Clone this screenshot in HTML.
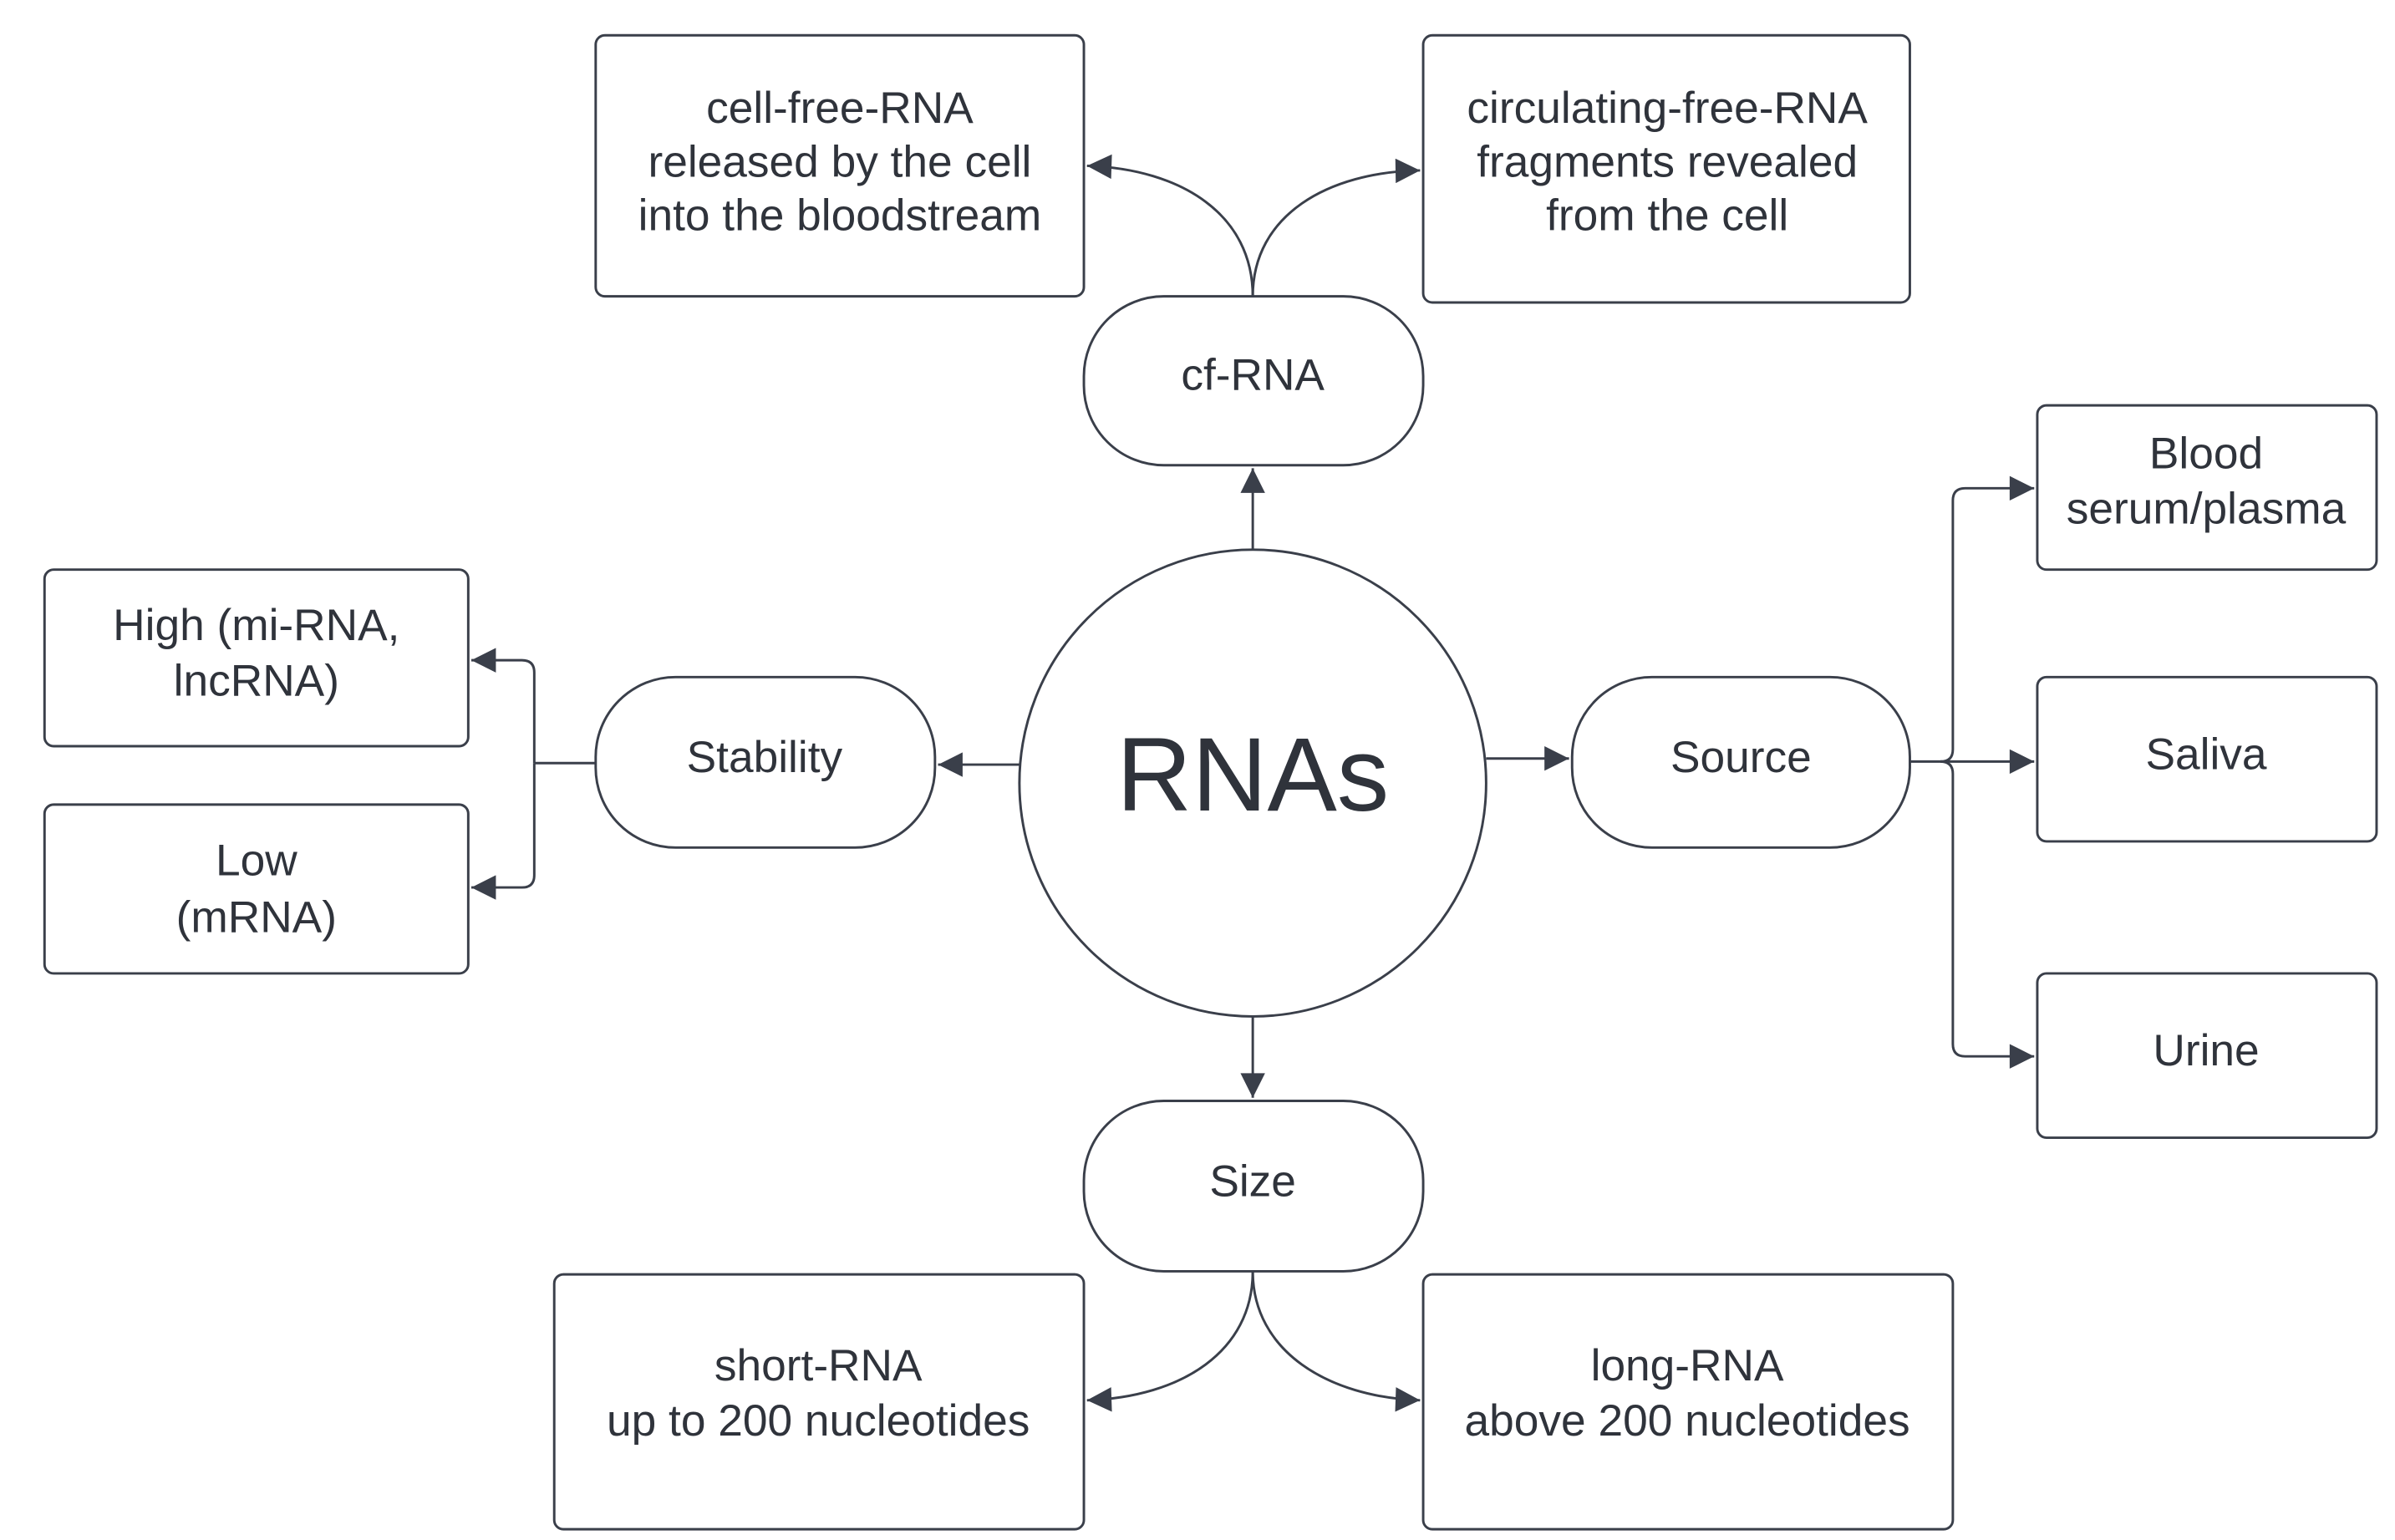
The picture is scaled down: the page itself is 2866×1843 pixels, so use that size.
<!DOCTYPE html>
<html><head><style>
html,body{margin:0;padding:0;background:#fff;}
svg{display:block;}
text{font-family:"Liberation Sans",Arial,sans-serif;fill:#2f333b;text-anchor:middle;}
</style></head><body>
<svg width="2866" height="1843" viewBox="0 0 1560 1003" preserveAspectRatio="none">
<defs>
<marker id="b" viewBox="0 0 10 10" refX="10" refY="5" markerWidth="20" markerHeight="16" markerUnits="userSpaceOnUse" orient="auto">
<path d="M0,0 L10,5 L0,10 z" fill="#3a3f4a"/></marker>
</defs>
<g fill="none" stroke="#3a3f4a" stroke-width="1.6">
<rect x="388" y="23" width="318" height="170" rx="6"/>
<rect x="927" y="23" width="317" height="174" rx="6"/>
<rect x="706" y="193" width="221" height="110" rx="52"/>
<circle cx="816" cy="510" r="152"/>
<rect x="388" y="441" width="221" height="111" rx="52"/>
<rect x="1024" y="441" width="220" height="111" rx="52"/>
<rect x="706" y="717" width="221" height="111" rx="52"/>
<rect x="29" y="371" width="276" height="115" rx="6"/>
<rect x="29" y="524" width="276" height="110" rx="6"/>
<rect x="1327" y="264" width="221" height="107" rx="6"/>
<rect x="1327" y="441" width="221" height="107" rx="6"/>
<rect x="1327" y="634" width="221" height="107" rx="6"/>
<rect x="361" y="830" width="345" height="166" rx="6"/>
<rect x="927" y="830" width="345" height="166" rx="6"/>

<path d="M816,358 L816,305" marker-end="url(#b)"/>
<path d="M816,193 C816,140 770,110 708,108" marker-end="url(#b)"/>
<path d="M816,193 C816,140 865,112 925,111" marker-end="url(#b)"/>
<path d="M665,498 L611,498" marker-end="url(#b)"/>
<path d="M388,497 L348,497"/>
<path d="M348,497 L348,438 Q348,430 340,430 L307,430" marker-end="url(#b)"/>
<path d="M348,497 L348,570 Q348,578 340,578 L307,578" marker-end="url(#b)"/>
<path d="M968,494 L1022,494" marker-end="url(#b)"/>
<path d="M1244,496 L1325,496" marker-end="url(#b)"/>
<path d="M1264,496 Q1272,496 1272,488 L1272,326 Q1272,318 1280,318 L1325,318" marker-end="url(#b)"/>
<path d="M1264,496 Q1272,496 1272,504 L1272,680 Q1272,688 1280,688 L1325,688" marker-end="url(#b)"/>
<path d="M816,662 L816,715" marker-end="url(#b)"/>
<path d="M816,828 C816,880 770,910 708,912" marker-end="url(#b)"/>
<path d="M816,828 C816,880 865,910 925,912" marker-end="url(#b)"/>
</g>
<g font-size="29">
<text x="547" y="80">cell-free-RNA</text>
<text x="547" y="115">released by the cell</text>
<text x="547" y="150">into the bloodstream</text>
<text x="1086" y="80">circulating-free-RNA</text>
<text x="1086" y="115">fragments revealed</text>
<text x="1086" y="150">from the cell</text>
<text x="816" y="254">cf-RNA</text>
<text x="498" y="503">Stability</text>
<text x="1134" y="503">Source</text>
<text x="816" y="779">Size</text>
<text x="167" y="417">High (mi-RNA,</text>
<text x="167" y="453">lncRNA)</text>
<text x="167" y="570">Low</text>
<text x="167" y="607">(mRNA)</text>
<text x="1437" y="305">Blood</text>
<text x="1437" y="341">serum/plasma</text>
<text x="1437" y="501">Saliva</text>
<text x="1437" y="694">Urine</text>
<text x="533" y="899">short-RNA</text>
<text x="533" y="935">up to 200 nucleotides</text>
<text x="1099" y="899">long-RNA</text>
<text x="1099" y="935">above 200 nucleotides</text>
</g>
<text x="816" y="528" font-size="68">RNAs</text>
</svg>
</body></html>
